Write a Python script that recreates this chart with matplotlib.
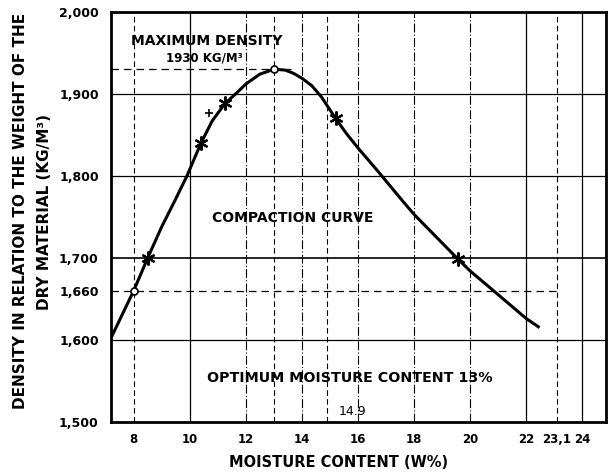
import matplotlib.pyplot as plt

# compaction curve
moisture = [7.2, 8.0, 8.5, 9.0, 9.5, 9.9, 10.4, 10.8, 11.25, 11.7, 12.0, 12.5, 13.0, 13.4,
            13.7, 14.0, 14.35, 14.7, 15.2, 15.6, 16.0, 16.7, 17.6, 18.0, 19.55, 20.0,
            20.9, 22.0, 22.43]
density = [1603, 1660, 1700, 1738, 1772, 1800, 1840, 1867, 1888, 1902, 1912, 1924, 1930, 1929,
           1925, 1919, 1910, 1896, 1870, 1851, 1834, 1806, 1769, 1753, 1699, 1684,
           1658, 1626, 1616]

star_x = [8.5, 10.4, 11.25, 15.2, 19.55]
star_y = [1700, 1840, 1889, 1870, 1699]
circle_x = [8.0, 13.0]
circle_y = [1660, 1930]

x_ticks = [8, 10, 12, 14, 16, 18, 20, 22, 23.1, 24]
x_labels = ["8", "10", "12", "14", "16", "18", "20", "22", "23,1", "24"]
y_ticks = [1500, 1600, 1660, 1700, 1800, 1900, 2000]
y_labels = ["1,500", "1,600", "1,660", "1,700", "1,800", "1,900", "2,000"]

solid_h = [1600, 1700, 1800, 1900]
solid_v = [10, 22, 24]
dashdot_v = [12, 14, 16, 18, 20]
dashed_v = [8, 13, 14.9, 23.1]

fig = plt.figure(figsize=(6.08, 4.73), dpi=100)
ax = fig.add_axes([0.183, 0.108, 0.814, 0.867])
ax.set_xlim(7.2, 24.85)
ax.set_ylim(1500, 2000)

for y in solid_h:
    ax.axhline(y, color="black", lw=1.2 if y == 1700 else 0.9, zorder=1)
for x in solid_v:
    ax.axvline(x, color="black", lw=0.9, zorder=1)
for x in dashdot_v:
    ax.axvline(x, color="black", lw=0.8, ls=(0, (8, 2, 1, 2)), zorder=1)
for x in dashed_v:
    ax.axvline(x, color="black", lw=0.8, ls=(0, (5, 3)), zorder=1)

ax.plot([7.2, 13.6], [1930, 1930], color="black", lw=0.9, ls=(0, (6, 4)), zorder=1)
ax.plot([7.2, 23.1], [1660, 1660], color="black", lw=0.9, ls=(0, (6, 4)), zorder=1)

ax.plot(moisture, density, color="black", lw=2.2, zorder=3)
ax.plot(star_x, star_y, ls="none", marker=(6, 2, 0), ms=10, mew=1.6, color="black", zorder=4)
ax.plot([10.7], [1877], ls="none", marker="+", ms=6, mew=1.2, color="black", zorder=4)
ax.plot(circle_x, circle_y, ls="none", marker="o", ms=5, mfc="white", mec="black", mew=1.2, zorder=5)

ax.set_xticks(x_ticks)
ax.set_xticklabels(x_labels, fontsize=8.5, fontweight="bold")
ax.set_yticks(y_ticks)
ax.set_yticklabels(y_labels, fontsize=9, fontweight="bold")
ax.tick_params(axis="x", length=0, pad=8)
ax.tick_params(axis="y", length=0, pad=9)
for s in ax.spines.values():
    s.set_linewidth(2)

txt = dict(fontsize=10, fontweight="bold", ha="center", va="center")
ax.text(10.6, 1965, "MAXIMUM DENSITY", **txt)
ax.text(10.52, 1944, "1930 KG/M³", fontsize=8.5, fontweight="bold", ha="center", va="center")
ax.text(13.68, 1749, "COMPACTION CURVE", **txt)
ax.text(15.7, 1554, "OPTIMUM MOISTURE CONTENT 13%", fontsize=10.3, fontweight="bold",
        ha="center", va="center")
ax.text(15.8, 1513, "14.9", fontsize=9, ha="center", va="center")

fig.text(0.033, 0.554, "DENSITY IN RELATION TO THE WEIGHT OF THE", rotation=90,
         fontsize=11, fontweight="bold", ha="center", va="center")
fig.text(0.074, 0.552, "DRY MATERIAL (KG/M³)", rotation=90,
         fontsize=11, fontweight="bold", ha="center", va="center")
fig.text(0.557, 0.023, "MOISTURE CONTENT (W%)", fontsize=10.5, fontweight="bold",
         ha="center", va="center")

plt.savefig("out.png", dpi=100)
